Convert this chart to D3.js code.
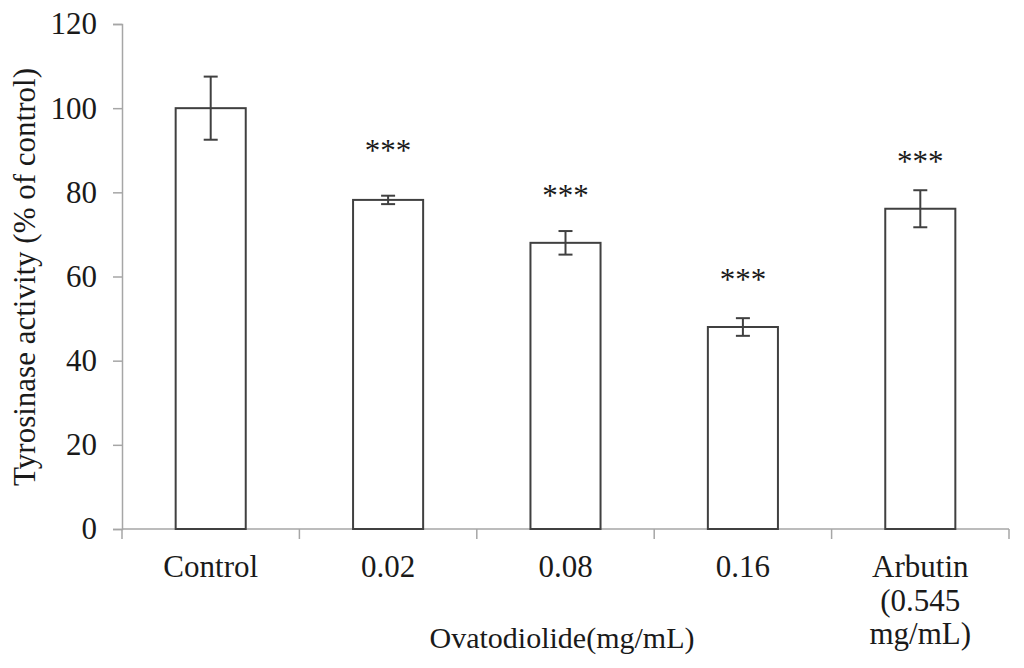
<!DOCTYPE html>
<html lang="en">
<head>
    <meta charset="UTF-8">
    <title>Tyrosinase activity</title>
    <script src="https://d3js.org/d3.v7.min.js"></script>
    <style>
        body { margin: 0; background: #ffffff; }
        svg text { font-family: "Liberation Serif", "Times New Roman", serif; fill: #1a1a1a; font-size: 31px; }
        .axis path, .axis line { stroke: #a6a6a6; stroke-width: 1.5px; }
        .bar { fill: #ffffff; stroke: #404040; stroke-width: 2px; }
        .err { stroke: #404040; stroke-width: 2px; fill: none; }
    </style>
</head>
<body>
<div id="chart"></div>
<script>
    // data
    const categories = ["Control", "0.02", "0.08", "0.16", "Arbutin\n(0.545\nmg/mL)"];
    const values = [100, 78.2, 68, 48, 76.1];
    const errors = [7.5, 1.0, 2.8, 2.1, 4.4];
    const stars = ["", "***", "***", "***", "***"];
    const starLevels = [null, 91, 80.4, 60.4, 88.4];
    const yTicks = [0, 20, 40, 60, 80, 100, 120];

    const width = 1024, height = 668;
    const margin = { top: 24, right: 15, bottom: 139, left: 122 };

    const svg = d3.select("#chart").append("svg")
        .attr("width", width).attr("height", height);

    const x = d3.scaleBand()
        .domain(d3.range(categories.length))
        .range([margin.left, width - margin.right])
        .paddingInner(0.605)
        .paddingOuter(0.3025);

    const y = d3.scaleLinear()
        .domain([0, 120])
        .range([height - margin.bottom, margin.top]);

    const step = x.step();

    // y axis
    const yAxis = svg.append("g")
        .attr("class", "axis")
        .attr("transform", `translate(${margin.left},0)`)
        .call(d3.axisLeft(y).tickValues(yTicks).tickSize(9).tickPadding(16));
    yAxis.attr("font-size", null).attr("font-family", null);

    // x axis: ticks at category boundaries
    const xAxis = svg.append("g")
        .attr("class", "axis")
        .attr("transform", `translate(0,${y(0)})`);
    xAxis.append("line")
        .attr("x1", margin.left).attr("x2", width - margin.right);
    xAxis.selectAll(".bound")
        .data(d3.range(categories.length + 1))
        .enter().append("line")
        .attr("class", "bound")
        .attr("x1", i => margin.left + i * step)
        .attr("x2", i => margin.left + i * step)
        .attr("y1", 0).attr("y2", 10);

    const labels = xAxis.selectAll(".lab")
        .data(categories)
        .enter().append("text")
        .attr("class", "lab")
        .attr("text-anchor", "middle")
        .attr("transform", (d, i) => `translate(${x(i) + x.bandwidth() / 2},48)`);
    labels.each(function(d) {
        const t = d3.select(this);
        d.split("\n").forEach((line, k) => {
            t.append("tspan").attr("x", 0).attr("y", k * 33.5).text(line);
        });
    });

    // bars
    svg.append("g").selectAll("rect")
        .data(values)
        .enter().append("rect")
        .attr("class", "bar")
        .attr("x", (d, i) => x(i))
        .attr("width", x.bandwidth())
        .attr("y", d => y(d))
        .attr("height", d => y(0) - y(d));

    // error bars
    const cap = 7;
    const cx = i => x(i) + x.bandwidth() / 2;
    const eb = svg.append("g").selectAll("g")
        .data(values)
        .enter().append("g")
        .attr("class", "err");
    eb.append("line")
        .attr("x1", (d, i) => cx(i)).attr("x2", (d, i) => cx(i))
        .attr("y1", (d, i) => y(d + errors[i]))
        .attr("y2", (d, i) => y(d - errors[i]));
    eb.append("line")
        .attr("x1", (d, i) => cx(i) - cap).attr("x2", (d, i) => cx(i) + cap)
        .attr("y1", (d, i) => y(d + errors[i]))
        .attr("y2", (d, i) => y(d + errors[i]));
    eb.append("line")
        .attr("x1", (d, i) => cx(i) - cap).attr("x2", (d, i) => cx(i) + cap)
        .attr("y1", (d, i) => y(d - errors[i]))
        .attr("y2", (d, i) => y(d - errors[i]));

    // significance marks
    svg.append("g").selectAll("text")
        .data(stars.map((s, i) => ({ s, i })).filter(d => d.s !== ""))
        .enter().append("text")
        .attr("text-anchor", "middle")
        .attr("x", d => cx(d.i))
        .attr("y", d => y(starLevels[d.i]) + 15)
        .text(d => d.s);

    // axis titles
    svg.append("text")
        .attr("text-anchor", "middle")
        .attr("transform", "translate(35,277) rotate(-90)")
        .text("Tyrosinase activity (% of control)");

    svg.append("text")
        .attr("text-anchor", "middle")
        .style("font-size", "30px")
        .attr("x", 562)
        .attr("y", 648)
        .text("Ovatodiolide(mg/mL)");
</script>
</body>
</html>
